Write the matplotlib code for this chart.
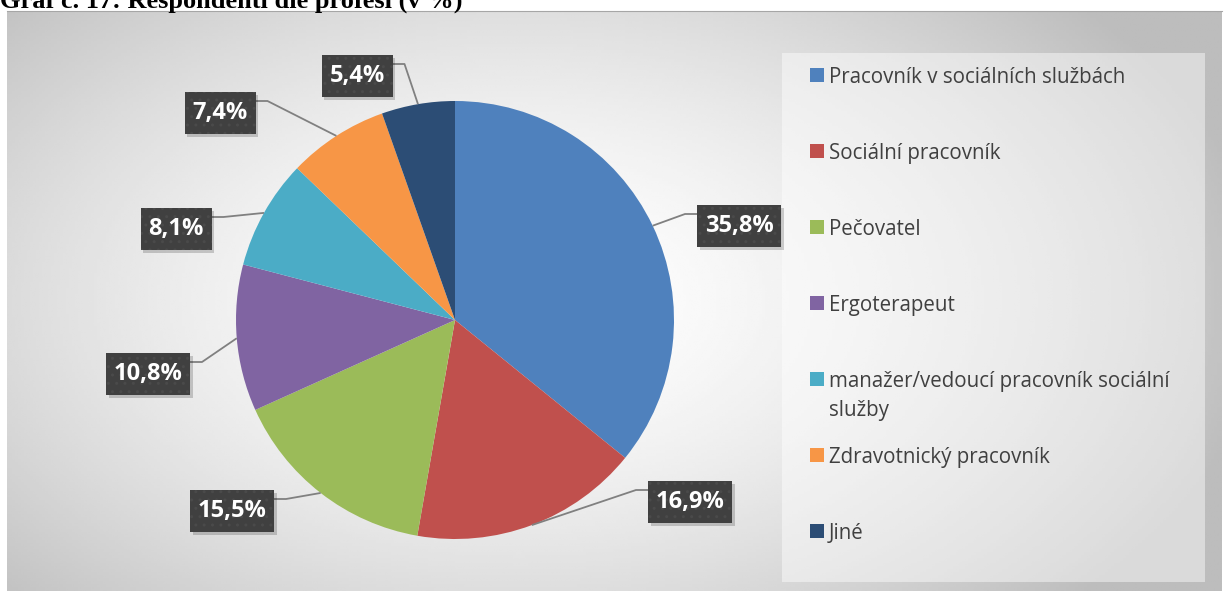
import numpy as np
import matplotlib
matplotlib.use("Agg")
import matplotlib.pyplot as plt
from matplotlib.patches import Rectangle
import matplotlib.patheffects as pe

# data
categories = ["Pracovník v sociálních službách", "Sociální pracovník", "Pečovatel",
              "Ergoterapeut", "manažer/vedoucí pracovník sociální\nslužby",
              "Zdravotnický pracovník", "Jiné"]
values = [35.8, 16.9, 15.5, 10.8, 8.1, 7.4, 5.4]
value_labels = ["35,8%", "16,9%", "15,5%", "10,8%", "8,1%", "7,4%", "5,4%"]
colors = ["#4F81BD", "#C0504D", "#9BBB59", "#8064A2", "#4BACC6", "#F79646", "#2C4D75"]

# layout (pixel coords, y from top)
W, H = 1224, 591
pie_cx, pie_cy, pie_r = 455, 320, 219
box_centers = [(739, 226), (690, 502), (232, 511), (148, 374), (176, 229), (220, 113), (357, 76)]

fig = plt.figure(figsize=(W / 100, H / 100), dpi=100)
ax = fig.add_axes([0, 0, 1, 1])

# background gradient of the chart area
x0, x1, y0, y1 = 7, 1222, 11, 591
gx, gy = np.meshgrid(np.linspace(x0, x1, 400), np.linspace(y0, y1, 200))
d = np.sqrt(((gx - 520) / 750) ** 2 + ((gy - 300) / 450) ** 2)
shade = 1 - 0.26 * np.clip(d, 0, 1) ** 1.6
ax.imshow(shade, cmap="gray", vmin=0, vmax=1, extent=(x0, x1, H - y1, H - y0),
          origin="upper", aspect="auto", zorder=0, interpolation="bilinear")
ax.plot([x0, x1], [H - y0, H - y0], color="#a6a6a6", lw=0.8, zorder=1)

# legend panel
ax.add_patch(Rectangle((782, H - 582), 1205 - 782, 582 - 53, facecolor="white",
                       alpha=0.45, edgecolor="none", zorder=1))

# pie
wedges, _ = ax.pie(values, colors=colors, startangle=90, counterclock=False,
                   center=(pie_cx, H - pie_cy), radius=pie_r,
                   wedgeprops=dict(linewidth=0))
for w in wedges:
    w.set_zorder(2)

# data labels with leader lines
cum = np.cumsum([0] + values[:-1])
total = sum(values)
for v, c, lab, (bx, by) in zip(values, cum, value_labels, box_centers):
    ang = np.deg2rad((c + v / 2) / total * 360)
    ex = pie_cx + pie_r * np.sin(ang)
    ey = pie_cy - pie_r * np.cos(ang)
    bw = 13 * len(lab) + 19
    bh = 42
    ay = by - bh / 2 + 9
    if ex > bx:
        sx = bx + bw / 2
        kx = sx + 12
    else:
        sx = bx - bw / 2
        kx = sx - 12
    ax.plot([ex, kx, sx], [H - ey, H - ay, H - ay], color="#808080", lw=1.3,
            zorder=3, solid_capstyle="butt")
    rect = Rectangle((bx - bw / 2, H - by - bh / 2), bw, bh, facecolor="#404040",
                     edgecolor="none", zorder=4)
    rect.set_path_effects([pe.SimplePatchShadow(offset=(2, -2), alpha=0.18, shadow_rgbFace="black"),
                           pe.Normal()])
    ax.add_patch(rect)
    ax.add_patch(Rectangle((bx - bw / 2, H - by - bh / 2), bw, bh, facecolor="none",
                           edgecolor="#4a4a4a", hatch="..", lw=0, zorder=4))
    ax.text(bx, H - by, lab, color="white", fontsize=17, fontweight="bold",
            family="Open Sans", ha="center", va="center", zorder=5)

# legend
for i, (cat, col) in enumerate(zip(categories, colors)):
    cy = 75 + i * 76
    ax.add_patch(Rectangle((810, H - cy - 7), 14, 14, facecolor=col, edgecolor="none", zorder=3))
    for j, line in enumerate(cat.split("\n")):
        ax.text(829, H - cy - 8 - j * 29, line, color="#404040", fontsize=14.8,
                family="Open Sans", ha="left", va="baseline", zorder=3)

# title, cut at the top edge as in the source
ax.text(0, H - 8, "Graf č. 17: Respondenti dle profesí (v %)", fontsize=19,
        fontweight="bold", family="Liberation Serif", ha="left", va="baseline")

ax.set_xlim(0, W)
ax.set_ylim(0, H)
ax.set_aspect("auto")
ax.axis("off")

fig.savefig("out.png", dpi=100)
